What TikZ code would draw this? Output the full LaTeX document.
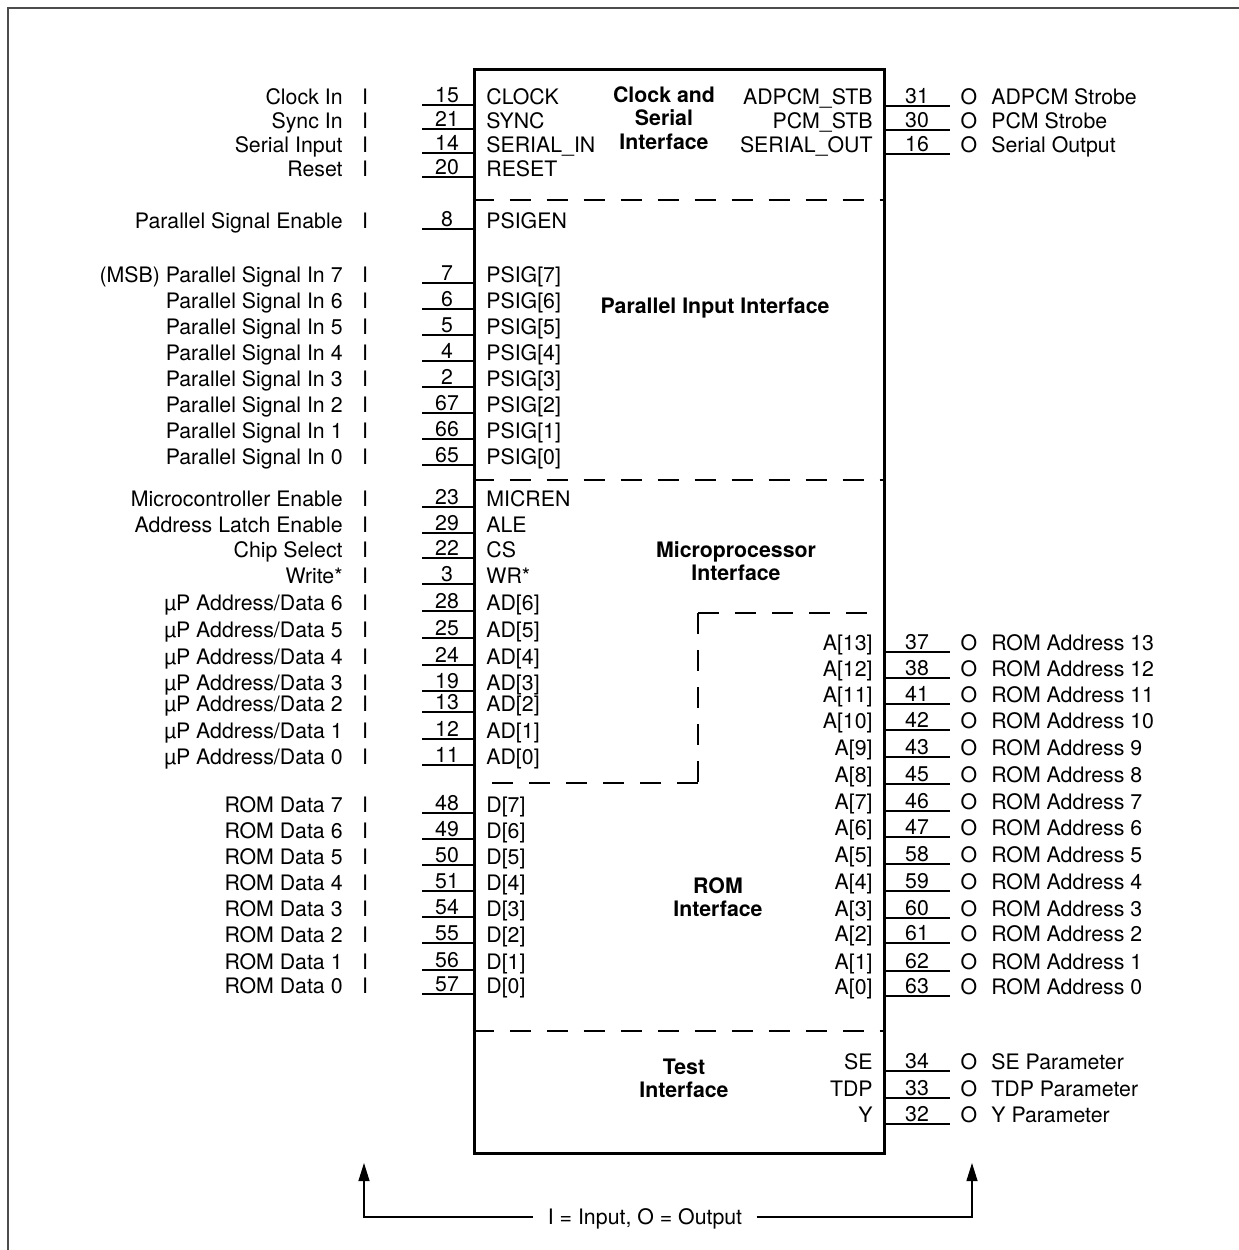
\documentclass[tikz,border=0pt]{standalone}
\usepackage{fontspec}
\setmainfont{TeX Gyre Heros}
\usepackage{tikz}
\usetikzlibrary{arrows.meta,positioning}

\newcommand{\pinfont}{\fontsize{10.65pt}{11.6pt}\selectfont}

\tikzset{
  txt/.style={inner sep=0pt, text height=0.72em, text depth=0pt},
  title/.style={font=\pinfont\bfseries, align=center, inner sep=0pt},
  chip/.style={draw, line width=1.5pt, minimum width=205pt, minimum height=542pt, inner sep=0pt},
  pinline/.style={line width=0.75pt},
  divider/.style={line width=0.9pt, dash pattern=on 10.5pt off 8pt},
  keyline/.style={line width=0.6pt, -{Triangle[length=9pt,width=5.5pt]}},
}

\begin{document}
\begin{tikzpicture}[x=0.5pt, y=-0.5pt, font=\pinfont]
	\useasboundingbox (0,0) rectangle (1239,1250);
	% Frame
	\draw[line width=1pt, black!70] (7.5,1250) -- (7.5,7.5) -- (1239,7.5);
	% Chip
	\node[chip] (chip) at (679,611) {};
	% Interface blocks
	\node[title] (serial) at (664,118) {Clock and\\Serial\\Interface};
	\node[title] (parallel) at (715,308) {Parallel Input Interface};
	\node[title] (micro) at (736,561) {Microprocessor\\Interface};
	\node[title] (rom) at (718,897) {ROM\\Interface};
	\node[title] (test) at (684,1078) {Test\\Interface};
	\coordinate (romtop) at (698,613);
	\coordinate (rombot) at (698,783);
	\draw[divider] (chip.west |- 0,200) -- (chip.east |- 0,200);
	\draw[divider] (chip.west |- 0,480) -- (chip.east |- 0,480);
	\draw[divider] (romtop) -- (romtop -| chip.east);
	\draw[divider] (romtop) -- (rombot);
	\draw[divider] (rombot) -- (rombot -| chip.west);
	\draw[divider] (chip.west |- 0,1031) -- (chip.east |- 0,1031);
	% Input pins
	\foreach \y/\num/\pin/\lbl [count=\i] in {
		97/15/CLOCK/Clock In,
		121/21/SYNC/Sync In,
		145/14/SERIAL\_IN/Serial Input,
		169/20/RESET/Reset,
		221/8/PSIGEN/Parallel Signal Enable,
		275/7/PSIG[7]/(MSB) Parallel Signal In 7,
		301/6/PSIG[6]/Parallel Signal In 6,
		327/5/PSIG[5]/Parallel Signal In 5,
		353/4/PSIG[4]/Parallel Signal In 4,
		379/2/PSIG[3]/Parallel Signal In 3,
		405/67/PSIG[2]/Parallel Signal In 2,
		431/66/PSIG[1]/Parallel Signal In 1,
		457/65/PSIG[0]/Parallel Signal In 0,
		499/23/MICREN/Microcontroller Enable,
		525/29/ALE/Address Latch Enable,
		550/22/CS/Chip Select,
		576/3/WR*/Write*,
		603/28/AD[6]/{µP Address/Data 6},
		630/25/AD[5]/{µP Address/Data 5},
		657/24/AD[4]/{µP Address/Data 4},
		683/19/AD[3]/{µP Address/Data 3},
		704/13/AD[2]/{µP Address/Data 2},
		731/12/AD[1]/{µP Address/Data 1},
		757/11/AD[0]/{µP Address/Data 0},
		805/48/D[7]/ROM Data 7,
		831/49/D[6]/ROM Data 6,
		857/50/D[5]/ROM Data 5,
		883/51/D[4]/ROM Data 4,
		909/54/D[3]/ROM Data 3,
		935/55/D[2]/ROM Data 2,
		962/56/D[1]/ROM Data 1,
		986/57/D[0]/ROM Data 0}{
		\coordinate (lend\i) at (422,\y+8);
		\draw[pinline] (lend\i) -- (lend\i -| chip.west);
		\node[txt, anchor=south] (lnum\i) at (447,\y+6) {\num};
		\node[txt, anchor=west] (lpin\i) at (486,\y) {\pin};
		\node[txt] (ldir\i) at (365,\y) {I};
		\node[txt, anchor=east] (llbl\i) at (343,\y) {\lbl};
	}
	% Output pins
	\foreach \y/\num/\pin/\lbl [count=\i] in {
		97/31/ADPCM\_STB/ADPCM Strobe,
		121/30/PCM\_STB/PCM Strobe,
		145/16/SERIAL\_OUT/Serial Output,
		643/37/A[13]/ROM Address 13,
		669/38/A[12]/ROM Address 12,
		695/41/A[11]/ROM Address 11,
		721/42/A[10]/ROM Address 10,
		748/43/A[9]/ROM Address 9,
		775/45/A[8]/ROM Address 8,
		802/46/A[7]/ROM Address 7,
		828/47/A[6]/ROM Address 6,
		855/58/A[5]/ROM Address 5,
		882/59/A[4]/ROM Address 4,
		909/60/A[3]/ROM Address 3,
		934/61/A[2]/ROM Address 2,
		962/62/A[1]/ROM Address 1,
		987/63/A[0]/ROM Address 0,
		1062/34/SE/SE Parameter,
		1089/33/TDP/TDP Parameter,
		1115/32/Y/Y Parameter}{
		\coordinate (rend\i) at (950,\y+9);
		\draw[pinline] (rend\i -| chip.east) -- (rend\i);
		\node[txt, anchor=south] (rnum\i) at (917,\y+7) {\num};
		\node[txt, anchor=east] (rpin\i) at (873,\y) {\pin};
		\node[txt] (rdir\i) at (969,\y) {O};
		\node[txt, anchor=west] (rlbl\i) at (991,\y) {\lbl};
	}
	% Key
	\node[txt, inner xsep=7pt] (key) at (645,1217) {I = Input, O = Output};
	\coordinate (intip) at (364,1163);
	\coordinate (outtip) at (972,1163);
	\draw[keyline] (key.west) -| (intip);
	\draw[keyline] (key.east) -| (outtip);
\end{tikzpicture}
\end{document}
